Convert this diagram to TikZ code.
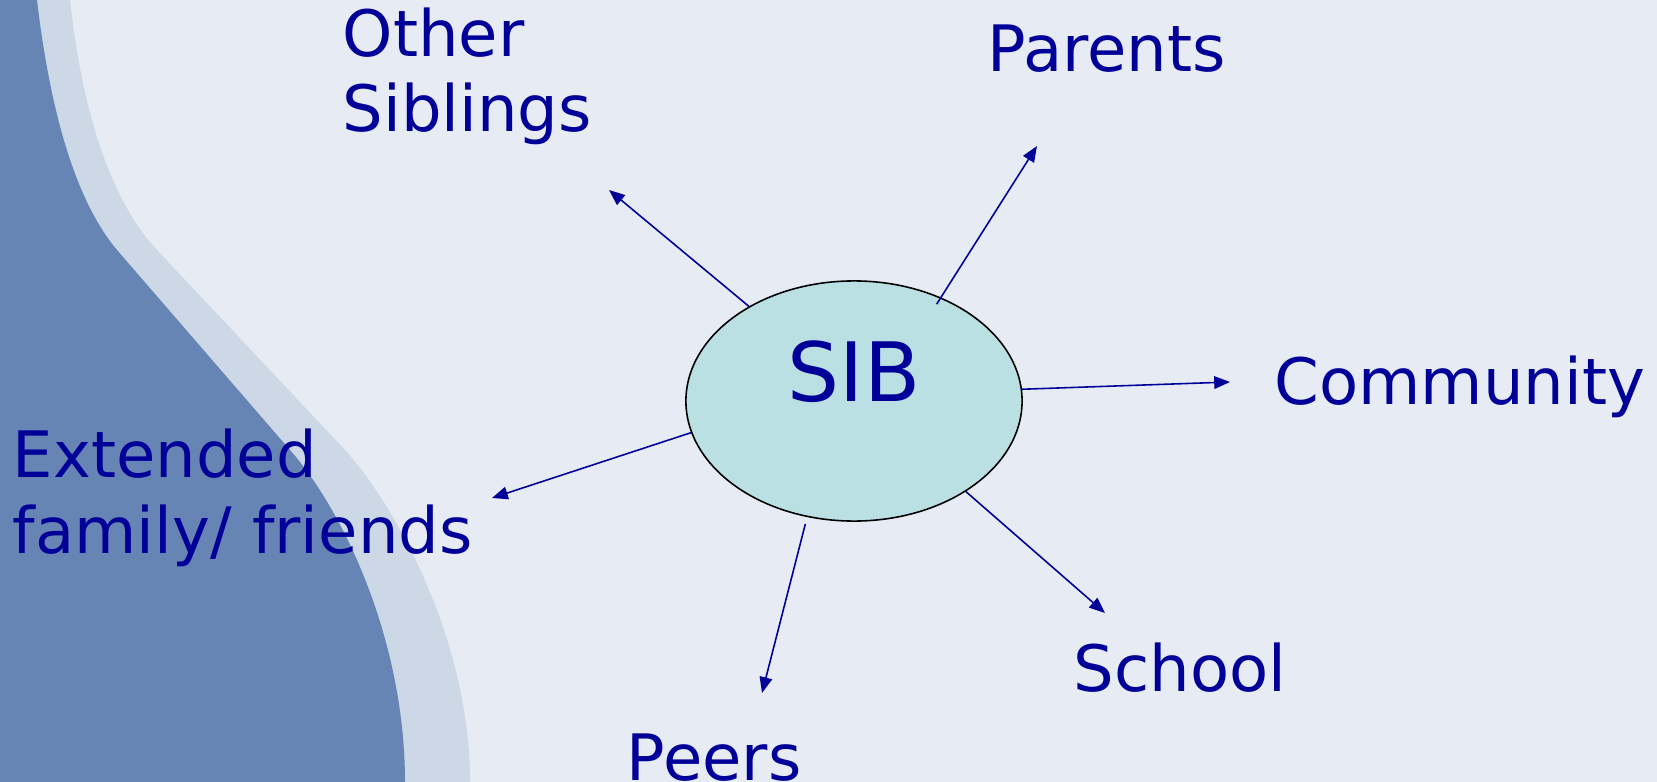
\documentclass[tikz,border=0pt]{standalone}
\usepackage{fontspec}
\setmainfont{DejaVu Sans}
\usetikzlibrary{positioning, arrows.meta, shapes, calc}
\definecolor{bgcolor}{RGB}{230,235,244}
\definecolor{bandcolor}{RGB}{205,216,230}
\definecolor{sidecolor}{RGB}{103,133,180}
\definecolor{sibcolor}{RGB}{186,224,227}
\definecolor{txtcolor}{RGB}{0,0,153}

\begin{document}
\begin{tikzpicture}[x=0.01cm, y=-0.01cm,
        lbl/.style={anchor=base west, inner sep=0, text=txtcolor, align=left, font=\fontsize{18.2}{21.6}\selectfont},
        link/.style={draw=txtcolor, line width=0.45pt, -{Triangle[length=4.5pt, width=3.6pt]}}]
        \useasboundingbox (0,0) rectangle (1657,782);
        % backdrop with the curved side bands
        \fill[bgcolor] (0,0) rectangle (1657,782);
        \fill[bandcolor] (0,0) -- (70,0) .. controls (82,110) and (110,200) .. (157,250) -- (345,450)
            .. controls (395,505) and (470,640) .. (470,782) -- (0,782) -- cycle;
        \fill[sidecolor] (0,0) -- (37,0) .. controls (50,110) and (75,200) .. (117,250) -- (290,450)
            .. controls (343,510) and (405,640) .. (405,782) -- (0,782) -- cycle;

        \node[ellipse, draw=black, line width=0.45pt, fill=sibcolor, minimum width=3.36cm, minimum height=2.4cm,
            inner sep=0, text=txtcolor, font=\fontsize{23.3}{27}\selectfont, text height=17pt, text depth=17pt] (sib) at (854,401) {SIB};

        % base west of a two line node sits on its last line
        \node[lbl] (siblings) at (342,132) {Other\\Siblings};
        \node[lbl] (parents) at (987,72) {Parents};
        \node[lbl] (community) at (1274,404) {Community};
        \node[lbl] (extended) at (12,553) {Extended\\family/ friends};
        \node[lbl] (peers) at (626,780) {Peers};
        \node[lbl] (school) at (1073,691) {School};

        \coordinate (siblingsend) at (609,190);
        \coordinate (parentsend) at (1037,146);
        \coordinate (communityend) at (1230,382);
        \coordinate (extendedend) at (492,498);
        \coordinate (peersend) at (762,693);
        \coordinate (schoolend) at (1105,613);

        \draw[link] (sib.138) -- (siblingsend);
        \draw[link, shorten <=-2.3pt] (sib.50) -- (parentsend);
        \draw[link] (sib.4) -- (communityend);
        \draw[link] (sib.191) -- (extendedend);
        \draw[link, shorten <=2pt] (sib.248) -- (peersend);
        \draw[link] (sib.-39) -- (schoolend);
    \end{tikzpicture}
\end{document}
